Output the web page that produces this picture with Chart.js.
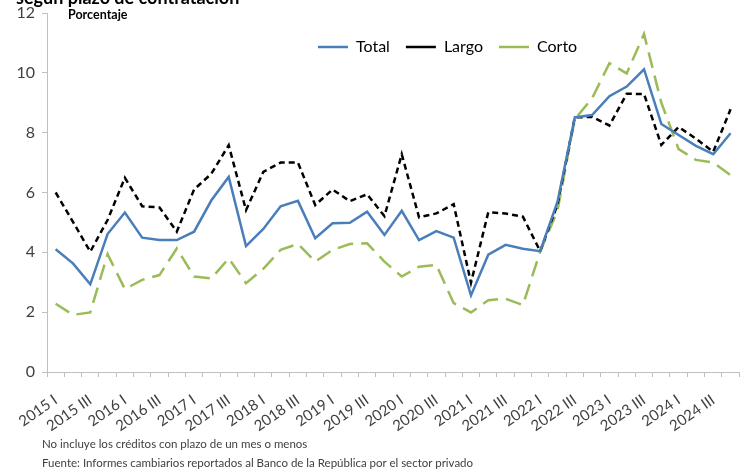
<!DOCTYPE html>
<html>
<head>
<meta charset="utf-8">
<script src="https://cdn.jsdelivr.net/npm/chart.js@4.4.1/dist/chart.umd.min.js"></script>
<style>
    body { margin: 0; background: #fff; font-family: Lato, 'Open Sans', sans-serif; }
    #wrap { position: relative; width: 755px; height: 470px; overflow: hidden; }
    #chart { position: absolute; left: 0; top: 0; }
    .note { position: absolute; color: #404040; white-space: nowrap; }
</style>
</head>
<body>
<div id="wrap">
    <canvas id="chart" width="755" height="470"></canvas>
    <div class="note" style="left:16px; top:-14px; font-size:18px; font-weight:bold; color:#000;">según plazo de contratación</div>
    <div class="note" style="left:68px; top:7px; font-size:12.5px; font-weight:bold; color:#000;">Porcentaje</div>
    <div class="note" style="left:42px; top:437px; font-size:11.5px;">No incluye los créditos con plazo de un mes o menos</div>
    <div class="note" style="left:42px; top:456px; font-size:11.5px;">Fuente: Informes cambiarios reportados al Banco de la República por el sector privado</div>
</div>
<script>
const quarters = [
    '2015 I', '2015 II', '2015 III', '2015 IV',
    '2016 I', '2016 II', '2016 III', '2016 IV',
    '2017 I', '2017 II', '2017 III', '2017 IV',
    '2018 I', '2018 II', '2018 III', '2018 IV',
    '2019 I', '2019 II', '2019 III', '2019 IV',
    '2020 I', '2020 II', '2020 III', '2020 IV',
    '2021 I', '2021 II', '2021 III', '2021 IV',
    '2022 I', '2022 II', '2022 III', '2022 IV',
    '2023 I', '2023 II', '2023 III', '2023 IV',
    '2024 I', '2024 II', '2024 III', '2024 IV'
];

const total = [4.10, 3.63, 2.93, 4.61, 5.33, 4.49, 4.41, 4.41, 4.69, 5.74,
               6.52, 4.21, 4.78, 5.54, 5.72, 4.47, 4.97, 4.99, 5.36, 4.58,
               5.39, 4.41, 4.71, 4.49, 2.56, 3.92, 4.25, 4.12, 4.04, 5.69,
               8.51, 8.59, 9.22, 9.54, 10.12, 8.29, 7.92, 7.56, 7.28, 7.98];

const largo = [6.00, 5.02, 4.02, 5.08, 6.49, 5.54, 5.50, 4.69, 6.10, 6.63,
               7.58, 5.41, 6.69, 7.00, 7.00, 5.58, 6.10, 5.71, 5.94, 5.21,
               7.28, 5.17, 5.30, 5.61, 2.98, 5.34, 5.30, 5.19, 4.04, 5.60,
               8.51, 8.53, 8.24, 9.30, 9.29, 7.59, 8.19, 7.80, 7.36, 8.78];

const corto = [2.28, 1.91, 1.99, 3.94, 2.77, 3.08, 3.24, 4.13, 3.19, 3.13,
               3.80, 2.97, 3.45, 4.08, 4.28, 3.69, 4.08, 4.28, 4.30, 3.69,
               3.19, 3.52, 3.58, 2.30, 1.99, 2.40, 2.45, 2.24, 4.02, 5.40,
               8.45, 9.15, 10.32, 9.98, 11.30, 9.00, 7.45, 7.09, 7.00, 6.58];

const axisColor = '#bfbfbf';
const textColor = '#404040';

// legend floats over the plot: takes no layout space, then gets nudged into place
const legendShift = { x: 302, y: 10 };
const legendMover = {
    id: 'legendMover',
    beforeInit(chart) {
        const fit = chart.legend.fit;
        chart.legend.fit = function () {
            fit.call(this);
            this.realHeight = this.height;
            this.height = 0;
        };
    },
    afterLayout(chart) {
        const lg = chart.legend;
        lg.left += legendShift.x;
        lg.right += legendShift.x;
        lg.top += legendShift.y;
        lg.height = lg.realHeight;
        lg.bottom = lg.top + lg.realHeight;
    }
};

const ctx = document.getElementById('chart').getContext('2d');
new Chart(ctx, {
    type: 'line',
    data: {
        labels: quarters,
        datasets: [{
            label: 'Total',
            data: total,
            borderColor: '#4a7ebb',
            borderWidth: 2.5,
            pointRadius: 0,
            tension: 0,
            fill: false
        }, {
            label: 'Largo',
            data: largo,
            borderColor: '#000000',
            borderWidth: 2.5,
            borderDash: [6, 4],
            pointRadius: 0,
            tension: 0,
            fill: false
        }, {
            label: 'Corto',
            data: corto,
            borderColor: '#9bbb59',
            borderWidth: 2.5,
            borderDash: [16, 8],
            pointRadius: 0,
            tension: 0,
            fill: false
        }]
    },
    options: {
        responsive: false,
        animation: false,
        layout: { padding: { top: 13, right: 10, left: 0, bottom: 0 } },
        plugins: {
            legend: {
                position: 'top',
                align: 'start',
                labels: {
                    usePointStyle: true,
                    pointStyle: 'line',
                    pointStyleWidth: 30,
                    padding: 16,
                    color: '#000',
                    font: { family: 'Lato', size: 16 }
                }
            },
            tooltip: { enabled: false }
        },
        scales: {
            x: {
                offset: true,
                grid: { offset: true, drawOnChartArea: false, tickLength: 5, color: axisColor },
                border: { color: axisColor },
                afterFit(scale) { scale.height = 98; },
                ticks: {
                    autoSkip: false,
                    maxRotation: 35,
                    minRotation: 35,
                    padding: 14,
                    color: textColor,
                    font: { family: 'Lato', size: 15 },
                    callback(value, index) {
                        return index % 2 === 0 ? this.getLabelForValue(value) : '';
                    }
                }
            },
            y: {
                min: 0,
                max: 12,
                grid: { drawOnChartArea: false, tickLength: 5, color: axisColor },
                border: { color: axisColor },
                afterFit(scale) {
                    scale.width = 47;
                    scale.paddingTop = 0;
                    scale.paddingBottom = 0;
                },
                ticks: {
                    stepSize: 2,
                    padding: 7,
                    color: textColor,
                    font: { family: 'Lato', size: 16 }
                }
            }
        }
    },
    plugins: [legendMover]
});
</script>
</body>
</html>
